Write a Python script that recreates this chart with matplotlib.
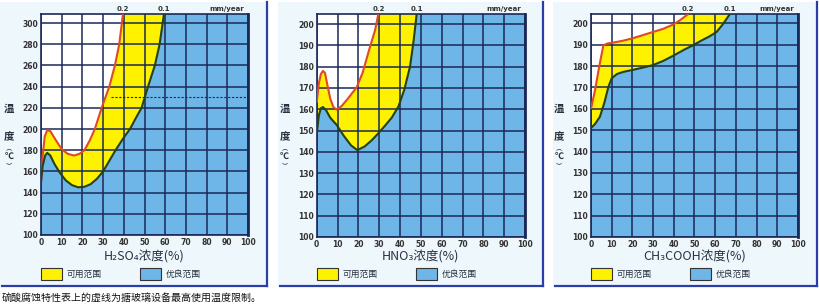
import matplotlib
matplotlib.use("Agg")
import matplotlib.pyplot as plt
from matplotlib.patches import Rectangle
from matplotlib.lines import Line2D

plt.rcParams['font.family'] = ['Noto Sans CJK SC', 'DejaVu Sans']

# ---------------- data ----------------
x_ticks = list(range(0, 101, 10))

# H2SO4 panel
h2so4_red_x = [0, 0.8, 1.8, 3, 4.5, 7, 10, 13, 16, 18.5, 21, 23.5, 26, 29.3, 33, 35.7, 37.8, 39.6]
h2so4_red_y = [150, 175, 193, 199, 198, 190, 181, 176.5, 175, 176.5, 180, 189, 200, 220, 240, 260, 280, 308.5]
h2so4_grn_x = [0, 0.8, 2, 3, 4.5, 6.5, 9, 12, 15, 18, 21, 24, 27, 30, 33, 36, 40, 43, 46, 48.6, 51.7, 55, 57.3, 59.4]
h2so4_grn_y = [150, 165, 175, 177.5, 175, 167, 159, 151.5, 147, 145, 145.5, 148, 153, 160, 170, 180, 192, 200, 211, 220, 240, 260, 280, 308.5]
h2so4_yticks = list(range(100, 301, 20))
h2so4_limit = 230

# HNO3 panel
hno3_red_x = [0, 1, 2, 3, 4, 5, 6.5, 8, 9.6, 12, 15, 19.2, 22, 25.6, 28, 29.6]
hno3_red_y = [163, 172, 176.5, 178, 177, 172, 165, 161, 159.8, 161.5, 165, 170.3, 177, 189.3, 197, 204.7]
hno3_grn_x = [0, 1, 2, 3, 4.5, 6.5, 9.6, 13, 16.5, 19.5, 23, 26.5, 29.6, 33, 36, 39.2, 42, 44.8, 46.5, 48]
hno3_grn_y = [148, 157, 160.5, 161, 159.5, 156, 152.6, 147.5, 143, 140.8, 142.5, 145.5, 148.7, 152.5, 156, 161.2, 169, 180, 192, 204.7]
hno3_yticks = list(range(100, 201, 10))

# CH3COOH panel
acet_red_x = [0, 2, 4, 6, 8, 10, 15, 20, 25, 30, 35, 39.8, 43, 47]
acet_red_y = [160, 169, 180, 189.8, 190.6, 190.9, 191.8, 193, 194.5, 196, 197.5, 199.5, 201.5, 204.4]
acet_grn_x = [0, 2, 4.3, 6.5, 8.4, 10, 12.5, 15.6, 20, 25, 30, 35, 40, 45, 49.4, 53, 57, 60.7, 64, 67.1]
acet_grn_y = [151, 153, 156.3, 163, 170.3, 174.3, 176.3, 177.3, 178.2, 179.3, 180.5, 182.5, 185, 187.7, 189.8, 191.8, 193.8, 196, 200, 204.4]
acet_yticks = list(range(100, 201, 10))

xlabels = ["H₂SO₄浓度(%)", "HNO₃浓度(%)", "CH₃COOH浓度(%)"]
legend_labels = ["可用范围", "优良范围"]
top_labels = ["0.2", "0.1", "mm/year"]
caption = "硫酸腐蚀特性表上的虚线为搪玻璃设备最高使用温度限制。"

# ---------------- style ----------------
W, H = 820, 308
BLUE = "#6eb5e8"
YELLOW = "#fff200"
RED = "#e2482a"
GREEN = "#26420f"
GRID = "#1b2858"
PANEL_BG = "#eef7fb"
BORDER = "#2b3da6"
TXT = "#333333"
LBL = "#2a3040"

fig = plt.figure(figsize=(W / 100, H / 100), dpi=100)
fig.patch.set_facecolor("white")


def fx(x):
    return x / W


def fy(y):
    return 1 - y / H


# panel backgrounds and borders
panels_px = [(0, 267), (278, 543), (553, 817)]
for (a, b) in panels_px:
    fig.add_artist(Rectangle((fx(a), fy(285)), fx(b - a), (285 - 2) / H,
                             transform=fig.transFigure, facecolor=PANEL_BG,
                             edgecolor="none", zorder=0))
    fig.add_artist(Line2D([fx(b), fx(b)], [fy(2), fy(286)], color=BORDER, lw=1.6,
                          transform=fig.transFigure))
    fig.add_artist(Line2D([fx(a + 2), fx(b)], [fy(286), fy(286)], color=BORDER, lw=1.6,
                          transform=fig.transFigure))

axes_px = [(41, 248, 14, 235), (316.7, 525, 14, 237), (591, 798, 14, 237)]
ylims = [(100, 308.5), (100, 204.7), (100, 204.4)]
data = [
    (h2so4_red_x, h2so4_red_y, h2so4_grn_x, h2so4_grn_y, h2so4_yticks),
    (hno3_red_x, hno3_red_y, hno3_grn_x, hno3_grn_y, hno3_yticks),
    (acet_red_x, acet_red_y, acet_grn_x, acet_grn_y, acet_yticks),
]

for i, ((l, r, t, b), (y0, y1), (rx, ry, gx, gy, yt)) in enumerate(zip(axes_px, ylims, data)):
    ax = fig.add_axes([fx(l), fy(b), fx(r - l), (b - t) / H])
    ax.set_facecolor("white")
    ax.set_xlim(0, 100)
    ax.set_ylim(y0, y1)
    # blue: below green curve
    bx = gx + [100, 100, 0]
    by = gy + [y1, y0, y0]
    ax.fill(bx, by, color=BLUE, lw=0, zorder=1)
    # yellow: between red and green
    yx = rx + gx[::-1]
    yy = ry + gy[::-1]
    ax.fill(yx, yy, color=YELLOW, lw=0, zorder=1)
    ax.plot(rx, ry, color=RED, lw=1.5, zorder=4, solid_capstyle="butt", solid_joinstyle="round")
    ax.plot(gx, gy, color=GREEN, lw=1.5, zorder=4, solid_capstyle="butt", solid_joinstyle="round")

    ax.set_xticks(x_ticks)
    ax.set_yticks(yt)
    ax.grid(True, color=GRID, lw=1.1)
    ax.set_axisbelow(False)
    ax.tick_params(length=0, pad=2, labelsize=5.5, colors=TXT)
    for lab in ax.get_xticklabels() + ax.get_yticklabels():
        lab.set_fontweight("bold")
        lab.set_family("DejaVu Sans")
    for s in ax.spines.values():
        s.set_color(GRID)
        s.set_linewidth(1.2)
    ax.spines["right"].set_linewidth(2.0)

    if i == 0:
        ax.axhline(h2so4_limit, xmin=0.34, xmax=1.0, color=GRID, lw=0.8,
                   ls=(0, (2, 1.5)), zorder=3)

    # top labels
    ax.text(rx[-1], 1.01, top_labels[0], transform=ax.get_xaxis_transform(),
            ha="center", va="bottom", fontsize=5, fontweight="bold", color=TXT,
            family="DejaVu Sans")
    ax.text(gx[-1], 1.01, top_labels[1], transform=ax.get_xaxis_transform(),
            ha="center", va="bottom", fontsize=5, fontweight="bold", color=TXT,
            family="DejaVu Sans")
    ax.text(0.98, 1.01, top_labels[2], transform=ax.transAxes,
            ha="right", va="bottom", fontsize=5, fontweight="bold", color=TXT,
            family="DejaVu Sans")

    # x label
    cx = (l + r) / 2
    fig.text(fx(cx), fy(257), xlabels[i], ha="center", va="center", fontsize=9,
             color=LBL)

    # y label (vertical)
    ylx = l - 32
    fig.text(fx(ylx), fy(109), "温", ha="center", va="center", fontsize=7.5,
             fontweight="bold", color=LBL)
    fig.text(fx(ylx), fy(137), "度", ha="center", va="center", fontsize=7.5,
             fontweight="bold", color=LBL)
    fig.text(fx(ylx), fy(147.5), "︵", ha="center", va="center", fontsize=4.5,
             color=LBL)
    fig.text(fx(ylx), fy(156), "℃", ha="center", va="center", fontsize=6.5,
             fontweight="bold", color=LBL)
    fig.text(fx(ylx), fy(165), "︶", ha="center", va="center", fontsize=4.5,
             color=LBL)

    # legend
    for j, (col, lab) in enumerate(zip([YELLOW, BLUE], legend_labels)):
        px0 = l + j * 99
        fig.add_artist(Rectangle((fx(px0), fy(280)), fx(21), 12 / H,
                                 transform=fig.transFigure, facecolor=col,
                                 edgecolor="#333333", lw=0.8))
        fig.text(fx(px0 + 26), fy(274), lab, ha="left", va="center",
                 fontsize=6.3, color=LBL)

fig.text(fx(2), fy(298), caption, ha="left", va="center", fontsize=7.2, color="#111111")

fig.savefig("out.png", dpi=100)
